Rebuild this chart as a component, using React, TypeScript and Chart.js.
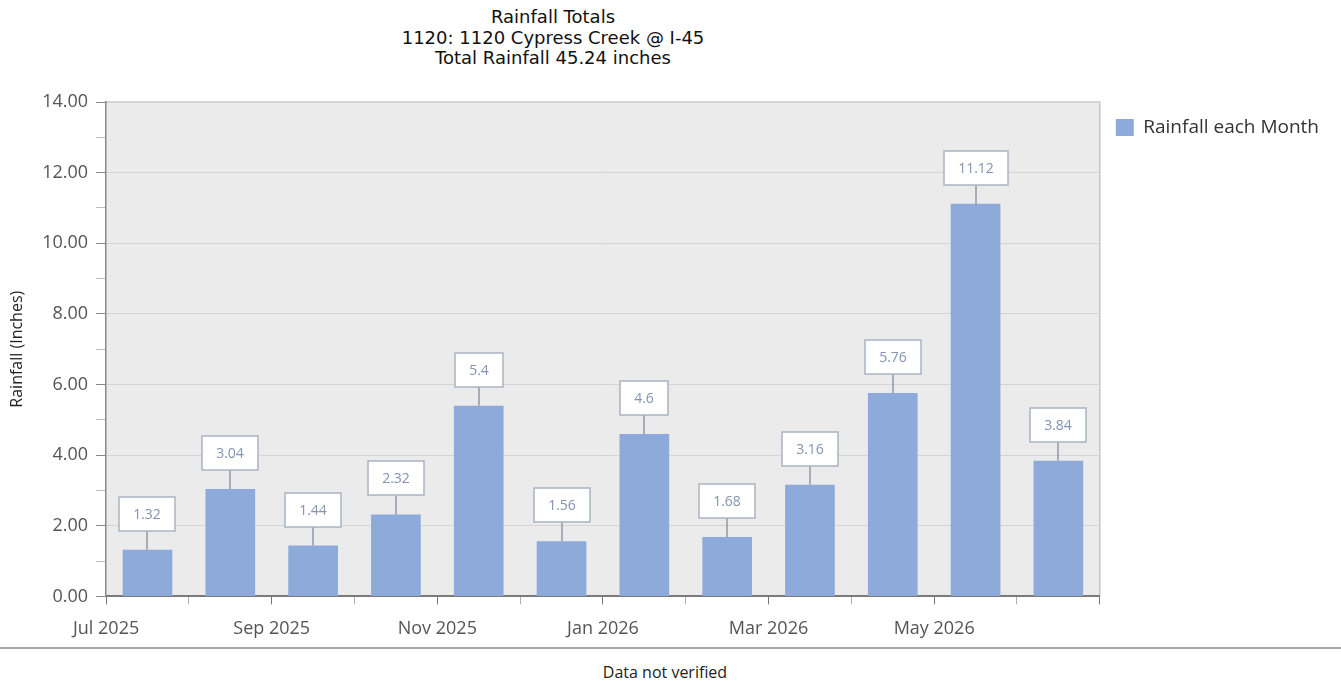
import React, { useEffect, useRef } from 'react';
import { Chart, registerables } from 'chart.js';

Chart.register(...registerables);

const months = ['Jul 2025', 'Aug 2025', 'Sep 2025', 'Oct 2025', 'Nov 2025', 'Dec 2025', 'Jan 2026', 'Feb 2026', 'Mar 2026', 'Apr 2026', 'May 2026', 'Jun 2026'];
const rainfall = [1.32, 3.04, 1.44, 2.32, 5.4, 1.56, 4.6, 1.68, 3.16, 5.76, 11.12, 3.84];
const titleLines = ['Rainfall Totals', '1120: 1120 Cypress Creek @ I-45', 'Total Rainfall 45.24 inches'];
const seriesName = 'Rainfall each Month';
const yAxisTitle = 'Rainfall (Inches)';
const footerText = 'Data not verified';
const yMin = 0;
const yMax = 14;

const BAR_COLOR = '#8eaadb';
const TICK_FONT = '"Open Sans", "Noto Sans", sans-serif';

const plotBackground = {
  id: 'plotBackground',
  beforeDraw(chart: any) {
    const { ctx, chartArea } = chart;
    if (!chartArea) return;
    ctx.save();
    ctx.fillStyle = '#ebebeb';
    ctx.fillRect(chartArea.left, chartArea.top, chartArea.right - chartArea.left, chartArea.bottom - chartArea.top);
    ctx.strokeStyle = '#c6c6c6';
    ctx.lineWidth = 1.5;
    ctx.beginPath();
    ctx.moveTo(chartArea.left, chartArea.top);
    ctx.lineTo(chartArea.right, chartArea.top);
    ctx.lineTo(chartArea.right, chartArea.bottom);
    ctx.stroke();
    ctx.restore();
  },
};

const valueBoxes = {
  id: 'valueBoxes',
  afterDatasetsDraw(chart: any) {
    const ctx = chart.ctx;
    const meta = chart.getDatasetMeta(0);
    ctx.save();
    ctx.font = '14px ' + TICK_FONT;
    meta.data.forEach((bar: any, i: number) => {
      const text = String(rainfall[i]);
      const tw = ctx.measureText(text).width;
      const w = Math.round(tw + 28);
      const h = 34;
      const gap = 19;
      const x = Math.round(bar.x);
      const yTop = bar.y;
      ctx.strokeStyle = '#8f98a8';
      ctx.lineWidth = 1.5;
      ctx.beginPath();
      ctx.moveTo(x, yTop);
      ctx.lineTo(x, yTop - gap);
      ctx.stroke();
      const bx = x - w / 2;
      const by = Math.round(yTop - gap - h);
      ctx.fillStyle = '#ffffff';
      ctx.fillRect(bx, by, w, h);
      ctx.strokeStyle = '#aab4c4';
      ctx.lineWidth = 1.5;
      ctx.strokeRect(bx, by, w, h);
      ctx.fillStyle = '#8493b3';
      ctx.textAlign = 'center';
      ctx.textBaseline = 'middle';
      ctx.fillText(text, x, by + h / 2 + 1);
    });
    ctx.restore();
  },
};

function RainfallChart() {
  const canvasRef = useRef<HTMLCanvasElement | null>(null);

  useEffect(() => {
    const prevMargin = document.body.style.margin;
    document.body.style.margin = '0';
    const canvas = canvasRef.current;
    if (!canvas) return;
    const chart = new Chart(canvas, {
      type: 'bar',
      data: {
        datasets: [
          {
            label: seriesName,
            data: rainfall.map((v, i) => ({ x: i + 0.5, y: v })),
            backgroundColor: BAR_COLOR,
            borderWidth: 0,
            categoryPercentage: 1,
            barPercentage: 0.6,
          },
        ],
      },
      options: {
        animation: false,
        responsive: false,
        maintainAspectRatio: false,
        layout: { padding: { top: 102, left: 8, right: 12, bottom: 4 } },
        plugins: {
          title: { display: false },
          tooltip: { enabled: false },
          legend: {
            display: true,
            position: 'right',
            align: 'start',
            labels: {
              boxWidth: 18,
              boxHeight: 17,
              padding: 16,
              color: '#333333',
              font: { family: TICK_FONT, size: 19 },
            },
          },
        },
        scales: {
          x: {
            type: 'linear',
            min: 0,
            max: months.length,
            offset: false,
            grid: {
              offset: false,
              drawOnChartArea: false,
              drawTicks: true,
              tickLength: 8,
              tickColor: (c: any) => (c.tick && c.tick.value % 2 === 0 ? '#777777' : '#b0b0b0'),
            },
            border: { display: true, color: '#7a7a7a', width: 2 },
            ticks: {
              stepSize: 1,
              autoSkip: false,
              maxRotation: 0,
              padding: 14,
              color: '#555555',
              font: { family: TICK_FONT, size: 18 },
              callback: (value: any) => {
                const i = Number(value);
                return i % 2 === 0 && i < months.length ? months[i] : '';
              },
            },
          },
          y: {
            min: yMin,
            max: yMax,
            grid: {
              color: (c: any) => (c.tick && c.tick.value % 2 === 0 && c.tick.value !== 0 ? '#d4d4d4' : 'rgba(0,0,0,0)'),
              tickColor: (c: any) => (c.tick && c.tick.value % 2 === 0 ? '#888888' : '#bbbbbb'),
              tickLength: 10,
              lineWidth: 1,
            },
            border: { display: true, color: '#8a8a8a', width: 1.5 },
            ticks: {
              stepSize: 1,
              autoSkip: false,
              padding: 8,
              color: '#555555',
              font: { family: TICK_FONT, size: 18 },
              callback: (value: any) => (Number(value) % 2 === 0 ? Number(value).toFixed(2) : ''),
            },
            title: {
              display: true,
              text: yAxisTitle,
              color: '#222222',
              font: { family: TICK_FONT, size: 16 },
              padding: { top: 0, bottom: 7 },
            },
          },
        },
      },
      plugins: [plotBackground, valueBoxes],
    });
    return () => {
      chart.destroy();
      document.body.style.margin = prevMargin;
    };
  }, []);

  return (
    <div style={{ position: 'relative', width: 1341, height: 681, background: '#ffffff', overflow: 'hidden' }}>
      <div
        style={{
          position: 'absolute',
          left: 0,
          top: 7,
          width: 1106,
          textAlign: 'center',
          fontFamily: '"DejaVu Sans", sans-serif',
          fontSize: 18,
          lineHeight: '20.5px',
          color: '#111111',
        }}
      >
        {titleLines.map((t) => (
          <div key={t}>{t}</div>
        ))}
      </div>
      <canvas ref={canvasRef} width={1341} height={658} style={{ position: 'absolute', left: 0, top: 0, width: 1341, height: 658 }} />
      <div style={{ position: 'absolute', left: 0, top: 647, width: 1341, borderTop: '2px solid #a5a5a5' }} />
      <div
        style={{
          position: 'absolute',
          left: 0,
          top: 662,
          width: 1330,
          textAlign: 'center',
          fontFamily: TICK_FONT,
          fontSize: 16,
          lineHeight: '20px',
          color: '#222222',
        }}
      >
        {footerText}
      </div>
    </div>
  );
}

export default function App() {
  return <RainfallChart />;
}
